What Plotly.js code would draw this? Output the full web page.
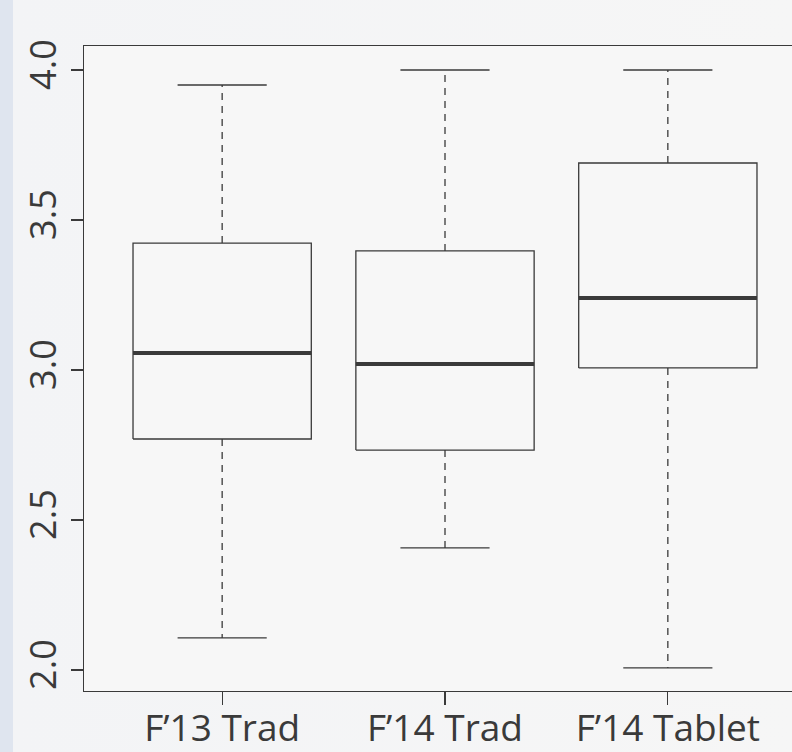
<!DOCTYPE html>
<html>
<head>
<meta charset="utf-8">
<script src="https://cdn.plot.ly/plotly-3.0.1.min.js"></script>
<style>
  html, body { margin: 0; padding: 0; width: 792px; height: 752px; overflow: hidden; }
  body { background: linear-gradient(to right, #dfe5ef 0px, #dfe5ef 13px, #f3f4f6 13px, #f6f6f6 100%); }
  #chart { width: 830px; height: 752px; }
</style>
</head>
<body>
<div id="chart"></div>
<script>
// Data
const categories = ["F\u201913 Trad", "F\u201914 Trad", "F\u201914 Tablet"];
const lowerWhisker = [2.107, 2.407, 2.007];
const q1Values = [2.770, 2.733, 3.007];
const medianValues = [3.057, 3.020, 3.240];
const q3Values = [3.423, 3.397, 3.690];
const upperWhisker = [3.950, 4.000, 4.000];
const yTickValues = [2.0, 2.5, 3.0, 3.5, 4.0];
const yTickLabels = ["2.0", "2.5", "3.0", "3.5", "4.0"];

// Style
const boxWidth = 0.8;
const capFrac = 0.5;
const lineColor = "#3a3a3a";
const traces = [];

categories.forEach((cat, i) => {
  const x = i + 1;
  const hw = boxWidth / 2;
  const cw = boxWidth * capFrac / 2;
  // whiskers (dashed)
  traces.push({
    type: "scatter", mode: "lines", x: [x, x, null, x, x],
    y: [q3Values[i], upperWhisker[i], null, q1Values[i], lowerWhisker[i]],
    line: { color: lineColor, width: 1.3, dash: "7px,6px" }, hoverinfo: "skip", showlegend: false
  });
  // caps
  traces.push({
    type: "scatter", mode: "lines", x: [x - cw, x + cw, null, x - cw, x + cw],
    y: [upperWhisker[i], upperWhisker[i], null, lowerWhisker[i], lowerWhisker[i]],
    line: { color: lineColor, width: 1.3 }, hoverinfo: "skip", showlegend: false
  });
  // box
  traces.push({
    type: "scatter", mode: "lines",
    x: [x - hw, x + hw, x + hw, x - hw, x - hw],
    y: [q1Values[i], q1Values[i], q3Values[i], q3Values[i], q1Values[i]],
    line: { color: lineColor, width: 1.3 }, hoverinfo: "skip", showlegend: false
  });
  // median
  traces.push({
    type: "scatter", mode: "lines", x: [x - hw, x + hw],
    y: [medianValues[i], medianValues[i]],
    line: { color: lineColor, width: 4 }, hoverinfo: "skip", showlegend: false
  });
});

const yFont = { family: "Open Sans, sans-serif", size: 36, color: "#3a3a3a" };
const xFont = { family: "Open Sans, sans-serif", size: 37, color: "#3a3a3a" };

const layout = {
  width: 830, height: 752,
  margin: { l: 84, r: 24, t: 46, b: 61 },
  paper_bgcolor: "rgba(0,0,0,0)",
  plot_bgcolor: "#f7f7f7",
  showlegend: false,
  font: yFont,
  xaxis: {
    range: [0.38, 3.62], tickvals: [1, 2, 3], ticktext: categories,
    showgrid: false, zeroline: false, showline: true, mirror: true,
    linecolor: lineColor, linewidth: 1.3,
    ticks: "outside", ticklen: 13, tickwidth: 1.3, tickcolor: lineColor,
    ticklabelstandoff: -9,
    tickfont: xFont
  },
  yaxis: {
    range: [1.93, 4.08], tickvals: yTickValues, ticktext: yTickLabels,
    showgrid: false, zeroline: false, showline: true, mirror: true,
    linecolor: lineColor, linewidth: 1.3,
    ticks: "outside", ticklen: 12, tickwidth: 1.3, tickcolor: lineColor,
    tickangle: -90, tickfont: yFont
  }
};

Plotly.newPlot("chart", traces, layout, { staticPlot: true, displayModeBar: false });
</script>
</body>
</html>
